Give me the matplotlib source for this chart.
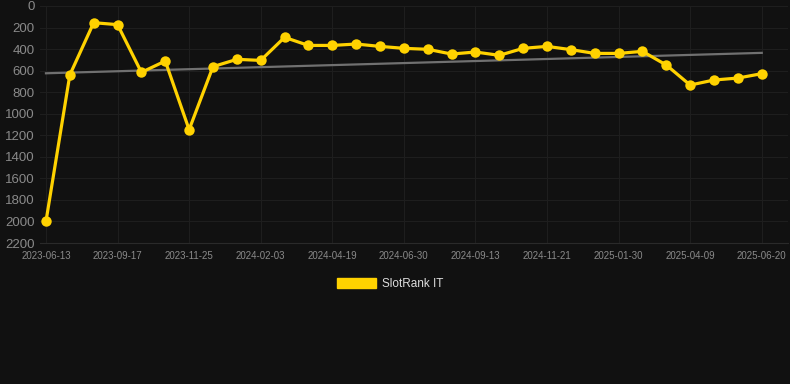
import matplotlib
matplotlib.use("Agg")
import matplotlib.pyplot as plt
import matplotlib.patches as mpatches
import numpy as np

plt.rcParams['font.family'] = ['Liberation Sans', 'DejaVu Sans']

tick_labels = ["2023-06-13", "2023-09-17", "2023-11-25", "2024-02-03", "2024-04-19",
               "2024-06-30", "2024-09-13", "2024-11-21", "2025-01-30", "2025-04-09",
               "2025-06-20"]
ranks = [2000, 640, 155, 173, 616, 511, 1148, 563, 495, 505, 291, 366, 366, 353, 375,
         393, 402, 446, 427, 458, 393, 375, 405, 440, 440, 421, 548, 734, 687, 669, 628]
series_name = "SlotRank IT"
y_ticks = [0, 200, 400, 600, 800, 1000, 1200, 1400, 1600, 1800, 2000, 2200]

bg = "#111111"
fig = plt.figure(figsize=(7.9, 3.84), dpi=100, facecolor=bg)
ax = fig.add_axes([40/790, 1 - 243/384, 748/790, 237/384], facecolor=bg)

x = np.arange(len(ranks))
coef = np.polyfit(x, ranks, 1)
trend = np.polyval(coef, x)
ax.plot([x[0], x[-1]], [trend[0], trend[-1]], color="#707070", lw=1.6, zorder=2)
ax.plot(x, ranks, color="#FFD200", lw=2.3, marker="o", markersize=7.5,
        markeredgewidth=0, zorder=3)

ax.set_ylim(2200, 0)
ax.set_xlim(-0.25, 31.1)
ax.set_yticks(y_ticks)
ax.set_yticklabels([str(v) for v in y_ticks])
tick_pos = x[::3]
ax.set_xticks(tick_pos)
ax.set_xticklabels(tick_labels)

ax.grid(True, color="#1e1e1e", lw=0.8, zorder=0)
for s in ["top", "right", "left"]:
    ax.spines[s].set_visible(False)
ax.spines["bottom"].set_color("#2a2a2a")
ax.tick_params(axis="y", length=0, pad=4, labelsize=9.5, labelcolor="#8a8a8a")
ax.tick_params(axis="x", length=0, pad=6, labelsize=7, labelcolor="#8a8a8a")

handle = mpatches.Patch(color="#FFD200", label=series_name)
leg = fig.legend(handles=[handle], loc="center", bbox_to_anchor=(390/790, 1 - 284/384),
                 frameon=False, fontsize=8.5, handlelength=3.3, handleheight=1.0,
                 handletextpad=0.5)
for t in leg.get_texts():
    t.set_color("#dddddd")

fig.savefig("out.png", dpi=100, facecolor=bg)
